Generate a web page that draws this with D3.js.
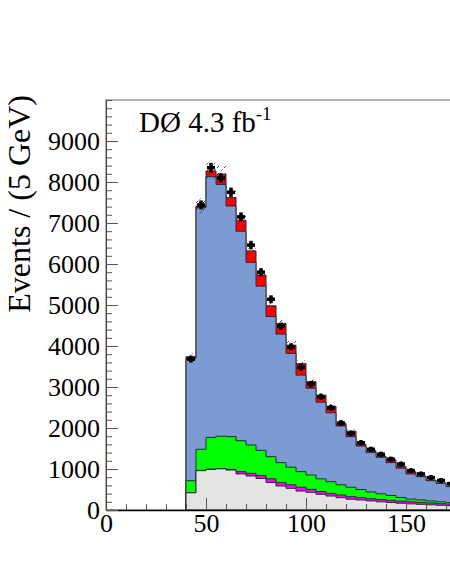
<!DOCTYPE html>
<html>
<head>
<meta charset="utf-8">
<script src="https://cdn.jsdelivr.net/npm/d3@7"></script>
<style>
  body { margin: 0; background: #fff; }
  text { font-family: "Liberation Serif", "DejaVu Serif", serif; }
</style>
</head>
<body>
<svg id="chart" width="450" height="582"></svg>
<script>
// bin lower edges (GeV), 5 GeV wide
const binLow = [40, 45, 50, 55, 60, 65, 70, 75, 80, 85, 90, 95, 100, 105, 110,
  115, 120, 125, 130, 135, 140, 145, 150, 155, 160, 165, 170];
const binWidth = 5;

// stacked components, bottom to top
const grayBkg = [420, 960, 990, 1005, 975, 880, 830, 770, 670, 585, 528, 463, 431, 382, 341,
  301, 262, 244, 222, 200, 182, 165, 150, 138, 126, 115, 105];
const magentaBkg = [5, 5, 5, 7, 15, 55, 65, 70, 90, 81, 87, 92, 74, 68, 64,
  65, 63, 56, 53, 55, 53, 50, 50, 47, 44, 40, 40];
const greenBkg = [290, 515, 775, 788, 800, 755, 690, 615, 540, 489, 430, 380, 349, 310, 285,
  249, 230, 200, 165, 140, 120, 90, 65, 60, 50, 45, 35];
const blueBkg = [2985, 5900, 6360, 6140, 5625, 5110, 4455, 4005, 3420, 3135, 2775, 2355, 2116, 1870, 1680,
  1435, 1235, 1060, 960, 890, 800, 715, 613, 568, 495, 450, 390];
const redBkg = [40, 35, 138, 250, 205, 270, 280, 270, 260, 260, 200, 280, 160, 170, 160,
  60, 130, 40, 40, 25, 65, 40, 52, 17, 15, 10, 10];

// observed events
const dataCounts = [3680, 7440, 8350, 8100, 7750, 7150, 6460, 5800, 5140, 4480, 3980, 3480, 3070, 2760, 2490,
  2120, 1870, 1640, 1480, 1360, 1240, 1120, 960, 880, 790, 720, 640];

const xTicksMajor = [0, 50, 100, 150];
const yTicksMajor = [0, 1000, 2000, 3000, 4000, 5000, 6000, 7000, 8000, 9000];
const systFrac = 0.025;

const keys = ["gray", "magenta", "green", "blue", "red"];
const colors = {
  gray: "#e3e3e3",
  magenta: "#ff00ff",
  green: "#00ff00",
  blue: "#7b9bd2",
  red: "#ff0000",
};

const rows = binLow.map((lo, i) => ({
  lo: lo,
  gray: grayBkg[i],
  magenta: magentaBkg[i],
  green: greenBkg[i],
  blue: blueBkg[i],
  red: redBkg[i],
  data: dataCounts[i],
}));

const svg = d3.select("#chart");

const x = d3.scaleLinear().domain([0, 200]).range([106, 506]);
const y = d3.scaleLinear().domain([0, 10000]).range([510, 100]);

const series = d3.stack().keys(keys)(rows);

// hatch pattern for the systematic band
const defs = svg.append("defs");
const pat = defs
  .append("pattern")
  .attr("id", "hatch")
  .attr("patternUnits", "userSpaceOnUse")
  .attr("width", 7)
  .attr("height", 7);
pat
  .append("path")
  .attr("d", "M0,7 L7,0")
  .attr("stroke", "#333")
  .attr("stroke-width", 0.9)
  .attr("stroke-dasharray", "3,2");

// step outline points for a cumulative top
const stepPoints = (tops) => {
  const pts = [];
  tops.forEach((t, i) => {
    pts.push([binLow[i], t]);
    pts.push([binLow[i] + binWidth, t]);
  });
  return pts;
};

const area = d3
  .area()
  .x((d) => x(d[0]))
  .y0(y(0))
  .y1((d) => y(d[1]));

// draw largest (total) first, as ROOT does for a stack
const histGroup = svg.append("g");
series
  .slice()
  .reverse()
  .forEach((s) => {
    histGroup
      .append("path")
      .attr("d", area(stepPoints(s.map((d) => d[1]))))
      .attr("fill", colors[s.key])
      .attr("stroke", "#2a2a3a")
      .attr("stroke-width", 1);
  });

// systematic uncertainty band on the total
const totals = series[series.length - 1].map((d) => d[1]);
svg
  .append("g")
  .selectAll("rect")
  .data(totals)
  .join("rect")
  .attr("x", (d, i) => x(binLow[i]))
  .attr("width", x(binWidth) - x(0))
  .attr("y", (d) => y(d * (1 + systFrac)))
  .attr("height", (d) => y(d * (1 - systFrac)) - y(d * (1 + systFrac)))
  .attr("fill", "url(#hatch)");

// data points
const dataGroup = svg.append("g").attr("stroke", "#000").attr("stroke-width", 3.5);
dataGroup
  .selectAll("line.h")
  .data(rows)
  .join("line")
  .attr("class", "h")
  .attr("x1", (d) => x(d.lo) + 1)
  .attr("x2", (d) => x(d.lo + binWidth) - 1)
  .attr("y1", (d) => y(d.data))
  .attr("y2", (d) => y(d.data));
dataGroup
  .selectAll("line.v")
  .data(rows)
  .join("line")
  .attr("class", "v")
  .attr("x1", (d) => x(d.lo + binWidth / 2))
  .attr("x2", (d) => x(d.lo + binWidth / 2))
  .attr("y1", (d) => y(d.data + Math.sqrt(d.data)) - 1)
  .attr("y2", (d) => y(d.data - Math.sqrt(d.data)) + 1);
dataGroup
  .selectAll("circle")
  .data(rows)
  .join("circle")
  .attr("cx", (d) => x(d.lo + binWidth / 2))
  .attr("cy", (d) => y(d.data))
  .attr("r", 2.5)
  .attr("stroke", "none")
  .attr("fill", "#000");

// frame
svg
  .append("rect")
  .attr("x", 106)
  .attr("y", 100)
  .attr("width", 400)
  .attr("height", 410)
  .attr("fill", "none")
  .attr("stroke", "#666")
  .attr("stroke-width", 1);

// x axis: minor then major ticks (pointing inward)
const xMinor = d3.range(0, 201, 10);
svg
  .append("g")
  .attr("transform", `translate(0,${y(0)})`)
  .call(d3.axisBottom(x).tickValues(xMinor).tickSize(-6).tickFormat(""))
  .call((g) => g.select(".domain").remove())
  .call((g) => g.selectAll("line").attr("stroke", "#555"));
svg
  .append("g")
  .attr("transform", `translate(0,${y(0)})`)
  .call(
    d3.axisBottom(x).tickValues(xTicksMajor).tickSize(-12).tickSizeOuter(0).tickPadding(4).tickFormat(d3.format("d")),
  )
  .call((g) => g.select(".domain").attr("stroke", "#000").attr("stroke-width", 1.5))
  .call((g) => g.selectAll("line").attr("stroke", "#555"))
  .call((g) =>
    g
      .selectAll("text")
      .attr("font-family", "'Liberation Serif', serif")
      .attr("font-size", 26)
      .attr("fill", "#000"),
  );

// y axis
const yMinor = d3.range(0, 10001, 200);
svg
  .append("g")
  .attr("transform", `translate(${x(0)},0)`)
  .call(d3.axisLeft(y).tickValues(yMinor).tickSize(-6).tickFormat(""))
  .call((g) => g.select(".domain").remove())
  .call((g) => g.selectAll("line").attr("stroke", "#555"));
svg
  .append("g")
  .attr("transform", `translate(${x(0)},0)`)
  .call(
    d3.axisLeft(y).tickValues(yTicksMajor).tickSize(-12).tickSizeOuter(0).tickPadding(6).tickFormat(d3.format("d")),
  )
  .call((g) => g.select(".domain").attr("stroke", "#444"))
  .call((g) => g.selectAll("line").attr("stroke", "#555"))
  .call((g) =>
    g
      .selectAll("text")
      .attr("font-family", "'Liberation Serif', serif")
      .attr("font-size", 26)
      .attr("fill", "#000"),
  );

// axis title
svg
  .append("text")
  .attr("transform", "translate(30,95) rotate(-90)")
  .attr("text-anchor", "end")
  .attr("font-size", 32)
  .text("Events / (5 GeV)");

// experiment label
const lbl = svg
  .append("text")
  .attr("x", 139)
  .attr("y", 132)
  .attr("font-size", 29)
  .text("DØ 4.3 fb");
lbl.append("tspan").attr("dy", -12).attr("font-size", 19).text("-1");
</script>
</body>
</html>
